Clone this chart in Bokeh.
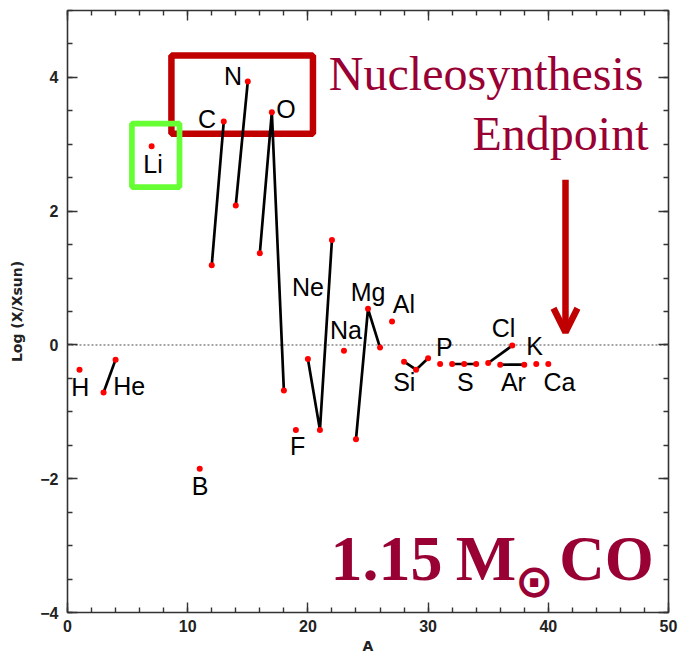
from bokeh.plotting import figure
from bokeh.models import (Range1d, LinearAxis, SingleIntervalTicker, Span, Label,
                          BoxAnnotation, Arrow, OpenHead, CustomJSTickFormatter)
from bokeh.embed import file_html
from bokeh.resources import INLINE

# ---- data: isotopes (mass number A) and log abundance relative to solar ----
mass_number = [1, 3, 4, 7, 11, 12, 13, 14, 15, 16, 17, 18, 19, 20, 21, 22, 23,
               24, 25, 26, 27, 28, 29, 30, 31, 32, 33, 34, 35, 36, 37, 38, 39, 40]
log_x_xsun = [-0.37, -0.71, -0.22, 2.97, -1.85, 1.19, 3.34, 2.085, 3.94, 1.37,
              3.48, -0.68, -1.27, -0.21, -1.27, 1.57, -0.085, -1.41, 0.54, -0.04,
              0.35, -0.25, -0.37, -0.20, -0.285, -0.285, -0.285, -0.285, -0.27,
              -0.295, -0.01, -0.295, -0.285, -0.285]

# isotopes of the same element joined by a line
isotope_groups = [[3, 4], [12, 13], [14, 15], [16, 17, 18], [20, 21, 22],
                  [24, 25, 26], [28, 29, 30], [32, 33, 34], [35, 37], [36, 38]]

element_names = ["H", "He", "Li", "C", "N", "O", "Ne", "Na", "Mg", "Al", "F", "B",
                 "Si", "P", "S", "Cl", "K", "Ar", "Ca"]

x_ticks_major = 10
y_ticks_major = 2

CRIMSON = "#990033"
DARKRED = "#c00000"
GREEN = "#66ff33"

lookup = dict(zip(mass_number, log_x_xsun))
xs = [[a for a in g] for g in isotope_groups]
ys = [[lookup[a] for a in g] for g in isotope_groups]

p = figure(frame_width=601, frame_height=602, x_range=Range1d(0, 50),
           y_range=Range1d(-4, 5), output_backend="svg", toolbar_location=None,
           min_border_left=67, min_border_right=11, min_border_top=10,
           min_border_bottom=40, x_axis_label="A", y_axis_label="Log (X/Xsun)")
p.grid.visible = False
p.background_fill_color = "white"
p.border_fill_color = "white"
p.outline_line_color = "#333333"
p.outline_line_width = 1.6

xt = SingleIntervalTicker(interval=x_ticks_major, num_minor_ticks=5)
yt = SingleIntervalTicker(interval=y_ticks_major, num_minor_ticks=4)

for ax in p.xaxis:
    ax.ticker = xt
for ax in p.yaxis:
    ax.ticker = yt
    ax.major_label_overrides = {-4: "\u22124", -2: "\u22122"}

def style_axis(ax, labels=True):
    ax.axis_line_color = None
    ax.major_tick_in = 10
    ax.major_tick_out = 0
    ax.minor_tick_in = 5
    ax.minor_tick_out = 0
    ax.major_tick_line_color = "#333333"
    ax.minor_tick_line_color = "#333333"
    ax.major_tick_line_width = 1.4
    ax.minor_tick_line_width = 1.4
    ax.major_label_text_font = "Liberation Sans"
    ax.major_label_text_font_style = "bold"
    ax.major_label_text_font_size = "16px"
    ax.major_label_text_color = "#222222"
    ax.axis_label_text_font = "DejaVu Sans"
    ax.axis_label_text_font_style = "bold"
    ax.axis_label_text_font_size = "14px"
    ax.axis_label_text_color = "#222222"
    if not labels:
        ax.formatter = CustomJSTickFormatter(code="return ''")
        ax.major_label_standoff = 0

for ax in p.xaxis:
    style_axis(ax)
    ax.major_label_standoff = 7
    ax.axis_label_standoff = 3
for ax in p.yaxis:
    style_axis(ax)
    ax.major_label_standoff = 9
    ax.axis_label_standoff = 12

top_ax = LinearAxis(ticker=xt)
style_axis(top_ax, labels=False)
p.add_layout(top_ax, "above")
right_ax = LinearAxis(ticker=yt)
style_axis(right_ax, labels=False)
p.add_layout(right_ax, "right")

# solar reference line
p.add_layout(Span(location=0, dimension="width", line_color="#888888",
                  line_width=1.5, line_dash="2 2", level="underlay"))

# highlight boxes (under the data lines)
p.add_layout(BoxAnnotation(left=8.645, right=20.42, bottom=3.159, top=4.326,
                           fill_alpha=0, line_color=DARKRED, line_alpha=1,
                           line_width=6.5, level="underlay"))
p.add_layout(BoxAnnotation(left=5.36, right=9.32, bottom=2.36, top=3.31,
                           fill_alpha=0, line_color=GREEN, line_alpha=1,
                           line_width=5.7, level="underlay"))

# isotope connections and points
p.multi_line(xs=xs, ys=ys, line_color="black", line_width=2.7)
p.scatter(mass_number, log_x_xsun, size=6, color="#ff0000", line_color=None)

# element label anchor positions (centre of capitals)
label_pos = [
    (1.06, -0.622), (5.14, -0.608), (7.11, 2.71), (11.6, 3.373), (13.77, 4.025),
    (18.17, 3.528), (20.0, 0.873), (23.16, 0.222), (25.01, 0.793), (27.99, 0.61),
    (19.15, -1.516), (11.04, -2.103), (28.02, -0.561), (31.36, -0.03),
    (33.1, -0.557), (36.28, 0.256), (38.86, -0.022), (37.1, -0.557), (40.92, -0.557),
]
for (lx, ly), lt in zip(label_pos, element_names):
    p.add_layout(Label(x=lx, y=ly, text=lt, text_font="Liberation Sans",
                       text_font_size="25px", text_align="center",
                       text_baseline="middle", text_color="black"))

# arrow
p.add_layout(Arrow(end=OpenHead(size=24, line_width=6.5, line_color=DARKRED),
                   x_start=41.43, y_start=2.47, x_end=41.43, y_end=0.19,
                   line_width=6.5, line_color=DARKRED))

# annotation texts
def big(x, y, text, size, align, style="normal", font="Liberation Serif"):
    p.add_layout(Label(x=x, y=y, text=text, text_font=font, text_font_style=style,
                       text_font_size=size, text_align=align, text_baseline="middle",
                       text_color=CRIMSON))

big(47.92, 4.055, "Nucleosynthesis", "48px", "right")
big(48.34, 3.154, "Endpoint", "48px", "right")
big(21.89, -3.199, "1.15", "64px", "left", "bold")
big(32.29, -3.199, "M", "64px", "left", "bold")
big(38.83, -3.523, "\u2299", "46px", "center", "bold", "DejaVu Sans")
big(48.78, -3.199, "CO", "63px", "right", "bold")

open("out.html", "w").write(file_html(p, INLINE))
